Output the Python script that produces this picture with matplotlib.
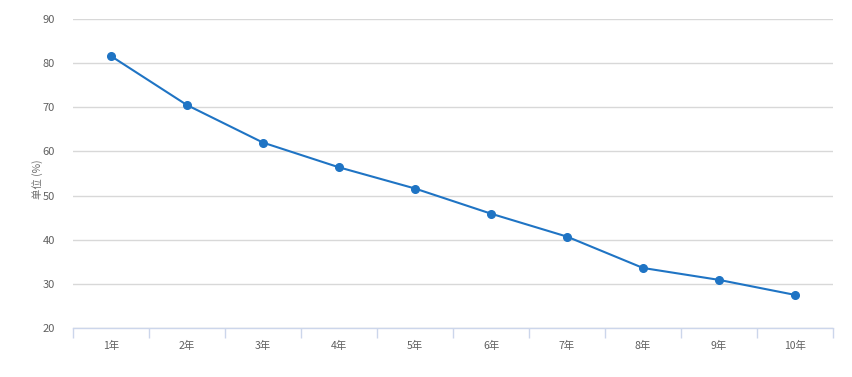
import matplotlib.pyplot as plt
import numpy as np

plt.rcParams['font.family'] = ['Noto Sans CJK SC', 'DejaVu Sans']

years = ['1年', '2年', '3年', '4年', '5年', '6年', '7年', '8年', '9年', '10年']
values = [81.6, 70.5, 62.0, 56.4, 51.6, 45.9, 40.7, 33.6, 30.9, 27.5]
y_ticks = [20, 30, 40, 50, 60, 70, 80, 90]

fig = plt.figure(figsize=(8.52, 3.77), dpi=100)
ax = fig.add_axes([73 / 852, 49 / 377, 760 / 852, 309 / 377])

x = np.arange(len(years))
ax.plot(x, values, color='#1f74c4', linewidth=1.5, marker='o', markersize=5.5, zorder=3)

ax.set_xlim(-0.5, len(years) - 0.5)
ax.set_ylim(20, 90)
ax.set_yticks(y_ticks)
ax.yaxis.grid(True, color='#d8d8d8', linewidth=1)
ax.set_axisbelow(True)

for side in ['top', 'right', 'left']:
    ax.spines[side].set_visible(False)
ax.spines['bottom'].set_color('#ccd6eb')
ax.spines['bottom'].set_linewidth(1)

ax.set_xticks(x)
ax.set_xticklabels(years)
ax.set_xticks(np.arange(-0.5, len(years)), minor=True)
ax.tick_params(axis='x', which='major', length=0, pad=9, labelsize=7.5, labelcolor='#606060')
ax.tick_params(axis='x', which='minor', length=7, color='#ccd6eb', width=1)
ax.tick_params(axis='y', length=0, pad=13, labelsize=8, labelcolor='#606060')

ax.set_ylabel('单位 (%)', fontsize=7.5, color='#707070')
ax.yaxis.set_label_coords(-0.039, 0.48)

fig.savefig('out.png', dpi=100)
